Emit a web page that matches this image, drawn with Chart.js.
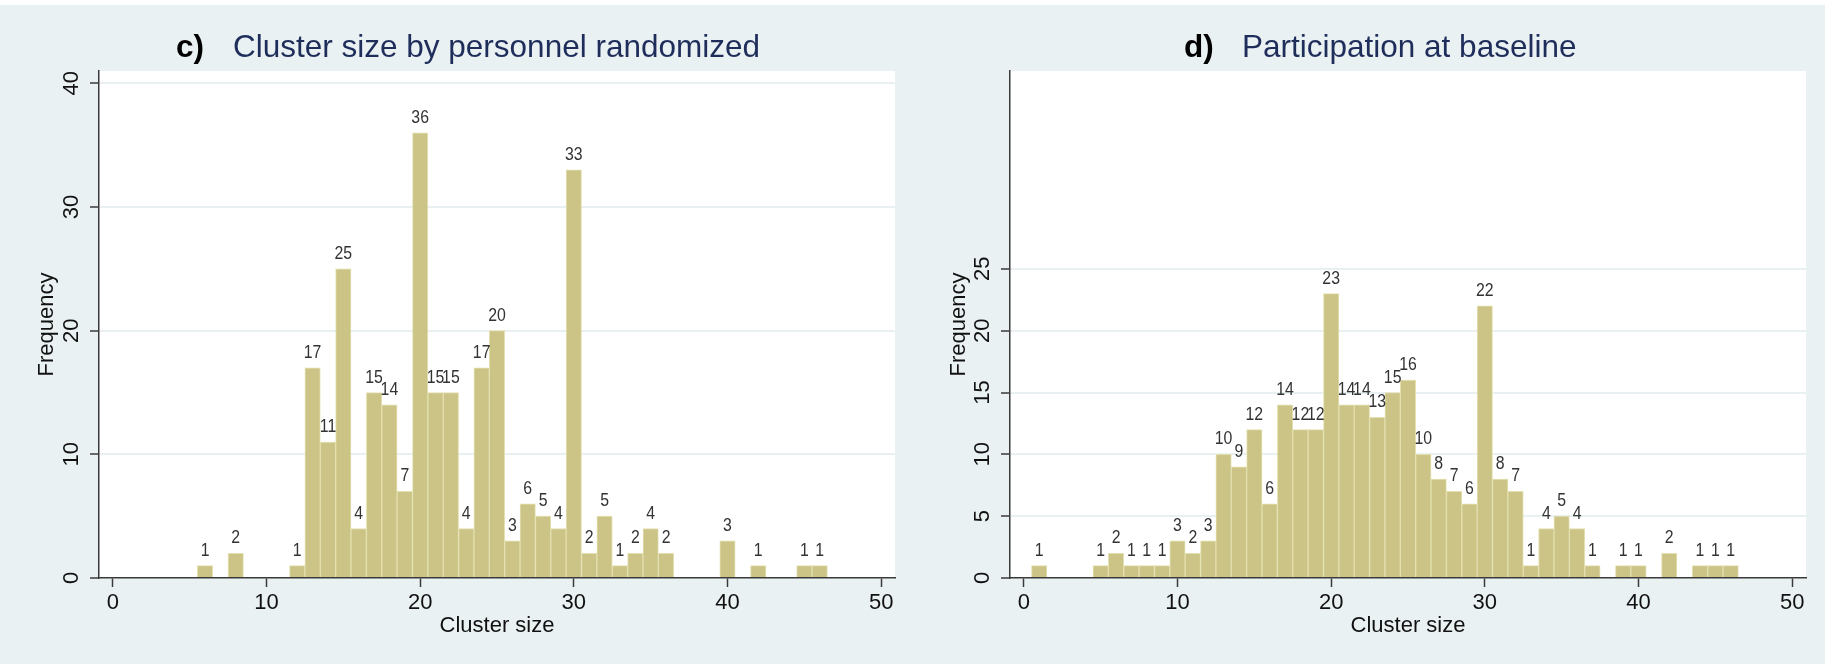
<!DOCTYPE html>
<html lang="en">
<head>
    <meta charset="UTF-8">
    <title>Cluster size histograms</title>
    <script src="https://cdn.jsdelivr.net/npm/chart.js"></script>
    <style>
        body {
            margin: 0;
            width: 1825px;
            height: 664px;
            background: #eaf1f3;
            position: relative;
            overflow: hidden;
            font-family: "Liberation Sans", Arial, sans-serif;
        }
        .top-strip { position: absolute; left: 0; top: 0; width: 1825px; height: 5px; background: #fff; }
        canvas { position: absolute; top: 0; }
        .ttl { position: absolute; top: 31px; font-size: 31.5px; line-height: 31px; white-space: nowrap; }
        .ttl b { color: #000; }
        .ttl span { color: #1f2d5a; }
    </style>
</head>
<body>
<div class="top-strip"></div>
<canvas id="chartC" width="912" height="664" style="left:0"></canvas>
<canvas id="chartD" width="913" height="664" style="left:912px"></canvas>
<div class="ttl" style="left:176px"><b>c)</b></div>
<div class="ttl" style="left:233px"><span>Cluster size by personnel randomized</span></div>
<div class="ttl" style="left:1184px"><b>d)</b></div>
<div class="ttl" style="left:1242px"><span>Participation at baseline</span></div>

<script>
    // c) cluster size by personnel randomized
    const sizesC  = [6, 8, 12, 13, 14, 15, 16, 17, 18, 19, 20, 21, 22, 23, 24, 25, 26, 27, 28, 29, 30, 31, 32, 33, 34, 35, 36, 40, 42, 45, 46];
    const countsC = [1, 2, 1, 17, 11, 25, 4, 15, 14, 7, 36, 15, 15, 4, 17, 20, 3, 6, 5, 4, 33, 2, 5, 1, 2, 4, 2, 3, 1, 1, 1];

    // d) participation at baseline
    const sizesD  = [1, 5, 6, 7, 8, 9, 10, 11, 12, 13, 14, 15, 16, 17, 18, 19, 20, 21, 22, 23, 24, 25, 26, 27, 28, 29, 30, 31, 32, 33, 34, 35, 36, 37, 39, 40, 42, 44, 45, 46];
    const countsD = [1, 1, 2, 1, 1, 1, 3, 2, 3, 10, 9, 12, 6, 14, 12, 12, 23, 14, 14, 13, 15, 16, 10, 8, 7, 6, 22, 8, 7, 1, 4, 5, 4, 1, 1, 1, 2, 1, 1, 1];

    // axis ticks
    const xTicks  = [0, 10, 20, 30, 40, 50];
    const yTicksC = [0, 10, 20, 30, 40];
    const yTicksD = [0, 5, 10, 15, 20, 25];

    const FONT = '"Liberation Sans", Arial, sans-serif';
    const AXIS = '#3a3a3a';
    const GRID = '#e8f0f2';
    const BAR_FILL = '#cbc486';
    const BAR_EDGE = '#e4e0b0';

    // white plot region
    const plotBg = {
        id: 'plotBg',
        beforeDraw(chart) {
            const a = chart.chartArea;
            chart.ctx.save();
            chart.ctx.fillStyle = '#fff';
            chart.ctx.fillRect(a.left, a.top, a.right - a.left, a.bottom - a.top);
            chart.ctx.restore();
        }
    };

    // counts above bars
    const barLabels = {
        id: 'barLabels',
        afterDatasetsDraw(chart) {
            const ctx = chart.ctx;
            const meta = chart.getDatasetMeta(0);
            const data = chart.data.datasets[0].data;
            ctx.save();
            ctx.font = '18px ' + FONT;
            ctx.fillStyle = '#333';
            ctx.textAlign = 'center';
            ctx.textBaseline = 'alphabetic';
            meta.data.forEach((bar, i) => {
                ctx.save();
                ctx.translate(bar.x, bar.y - 10);
                ctx.scale(0.88, 1);
                ctx.fillText(String(data[i].y), 0, 0);
                ctx.restore();
            });
            ctx.restore();
        }
    };

    function makeHistogram(id, sizes, counts, yTicks, yWidth, padRight) {
        new Chart(document.getElementById(id), {
            type: 'bar',
            data: {
                datasets: [{
                    data: sizes.map((s, i) => ({x: s, y: counts[i]})),
                    backgroundColor: BAR_FILL,
                    borderColor: BAR_EDGE,
                    borderWidth: 1,
                    barPercentage: 1,
                    categoryPercentage: 1
                }]
            },
            options: {
                responsive: false,
                animation: false,
                devicePixelRatio: 1,
                layout: {padding: {top: 71, right: padRight, left: 0, bottom: 0}},
                plugins: {
                    legend: {display: false},
                    tooltip: {enabled: false}
                },
                scales: {
                    x: {
                        type: 'linear',
                        min: -0.9,
                        max: 50.9,
                        offset: false,
                        afterBuildTicks: s => { s.ticks = xTicks.map(v => ({value: v})); },
                        afterFit: s => { s.height = 86; },
                        grid: {drawOnChartArea: false, offset: false, tickLength: 9, tickColor: AXIS, tickWidth: 1.5},
                        border: {color: AXIS, width: 1.5},
                        ticks: {font: {family: FONT, size: 22}, color: '#111', padding: 3, maxRotation: 0},
                        title: {
                            display: true,
                            text: 'Cluster size',
                            font: {family: FONT, size: 22},
                            color: '#111',
                            padding: {top: 0, bottom: 25}
                        }
                    },
                    y: {
                        min: 0,
                        max: 41,
                        afterBuildTicks: s => { s.ticks = yTicks.map(v => ({value: v})); },
                        afterFit: s => { s.width = yWidth; },
                        grid: {
                            color: c => (c.tick && c.tick.value === 0) ? 'rgba(0,0,0,0)' : GRID,
                            lineWidth: 2,
                            tickLength: 9,
                            tickColor: AXIS,
                            tickWidth: 1.5
                        },
                        border: {color: AXIS, width: 1.5},
                        ticks: {
                            font: {family: FONT, size: 22},
                            color: '#111',
                            minRotation: 90,
                            maxRotation: 90,
                            crossAlign: 'center',
                            padding: 6
                        },
                        title: {
                            display: true,
                            text: 'Frequency',
                            font: {family: FONT, size: 22},
                            color: '#111',
                            padding: {top: 34, bottom: 0}
                        }
                    }
                }
            },
            plugins: [plotBg, barLabels]
        });
    }

    makeHistogram('chartC', sizesC, countsC, yTicksC, 99, 17);
    makeHistogram('chartD', sizesD, countsD, yTicksD, 98, 19);
</script>
</body>
</html>
